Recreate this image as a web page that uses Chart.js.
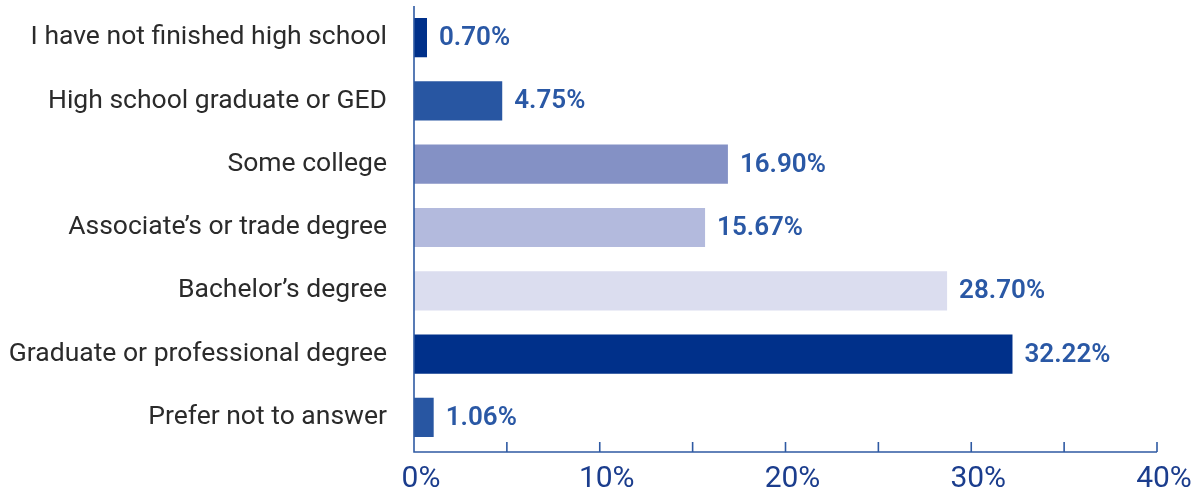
<!DOCTYPE html>
<html>
<head>
<meta charset="utf-8">
<script src="https://cdn.jsdelivr.net/npm/chart.js@4"></script>
<style>
  html, body { margin: 0; padding: 0; background: #fff; }
  #wrap { width: 1204px; height: 497px; position: relative; }
</style>
</head>
<body>
<div id="wrap"><canvas id="eduChart"></canvas></div>
<script>
// Highest level of education reached
var categories = [
    "I have not finished high school",
    "High school graduate or GED",
    "Some college",
    "Associate\u2019s or trade degree",
    "Bachelor\u2019s degree",
    "Graduate or professional degree",
    "Prefer not to answer"
];
var shares = [0.70, 4.75, 16.90, 15.67, 28.70, 32.22, 1.06];
var barColors = ["#00308a", "#2856a2", "#8491c5", "#b3badd", "#dbddef", "#00308a", "#2856a2"];
var xTicks = [0, 10, 20, 30, 40];

var axisBlue = "#2f5aa3";

// axis lines and the little 5% tick marks that sit above the x axis
var axisLines = {
    id: 'axisLines',
    afterDraw: function (chart) {
        var c = chart.ctx, area = chart.chartArea, x = chart.scales.x;
        var base = area.bottom + 3;
        c.save();
        c.strokeStyle = axisBlue;
        c.lineWidth = 1.6;
        c.beginPath();
        c.moveTo(area.left, area.top);
        c.lineTo(area.left, base);
        c.lineTo(x.getPixelForValue(40), base);
        c.stroke();
        for (var v = 5; v <= 40; v += 5) {
            var px = x.getPixelForValue(v);
            c.beginPath();
            c.moveTo(px, base - 10);
            c.lineTo(px, base);
            c.stroke();
        }
        c.restore();
    }
};

// percentage printed just past the end of each bar
var valueLabels = {
    id: 'valueLabels',
    afterDatasetsDraw: function (chart) {
        var c = chart.ctx;
        var meta = chart.getDatasetMeta(0);
        c.save();
        c.font = "600 26px Roboto";
        c.fillStyle = "#2a58a5";
        c.textAlign = "left";
        c.textBaseline = "middle";
        meta.data.forEach(function (bar, i) {
            c.fillText(shares[i].toFixed(2) + "%", bar.x + 12, bar.y + 1);
        });
        c.restore();
    }
};

new Chart(document.getElementById("eduChart"), {
    type: 'bar',
    data: {
        labels: categories,
        datasets: [{
            data: shares,
            backgroundColor: barColors,
            borderWidth: 0,
            categoryPercentage: 0.62,
            barPercentage: 1
        }]
    },
    options: {
        indexAxis: 'y',
        responsive: true,
        maintainAspectRatio: false,
        animation: false,
        layout: { padding: { top: 6, right: 47, left: 0, bottom: 0 } },
        plugins: {
            legend: { display: false },
            tooltip: { enabled: false }
        },
        scales: {
            x: {
                min: 0,
                max: 40,
                afterBuildTicks: function (scale) {
                    scale.ticks = xTicks.map(function (v) { return { value: v }; });
                },
                afterFit: function (scale) {
                    scale.height = 48;
                    scale.paddingLeft = 0;
                    scale.paddingRight = 0;
                },
                border: { display: false },
                grid: { display: false, drawTicks: false },
                ticks: {
                    padding: 12,
                    labelOffset: 7,
                    color: "#1b3d8d",
                    font: { family: "Roboto", size: 30 },
                    callback: function (v) { return v + "%"; }
                }
            },
            y: {
                afterFit: function (scale) {
                    scale.width = 414;
                    scale.paddingTop = 0;
                    scale.paddingBottom = 0;
                },
                border: { display: false },
                grid: { display: false, drawTicks: false },
                ticks: {
                    padding: 27,
                    color: "#2b2b2b",
                    font: { family: "Roboto", size: 26.5 }
                }
            }
        }
    },
    plugins: [axisLines, valueLabels]
});
</script>
</body>
</html>
